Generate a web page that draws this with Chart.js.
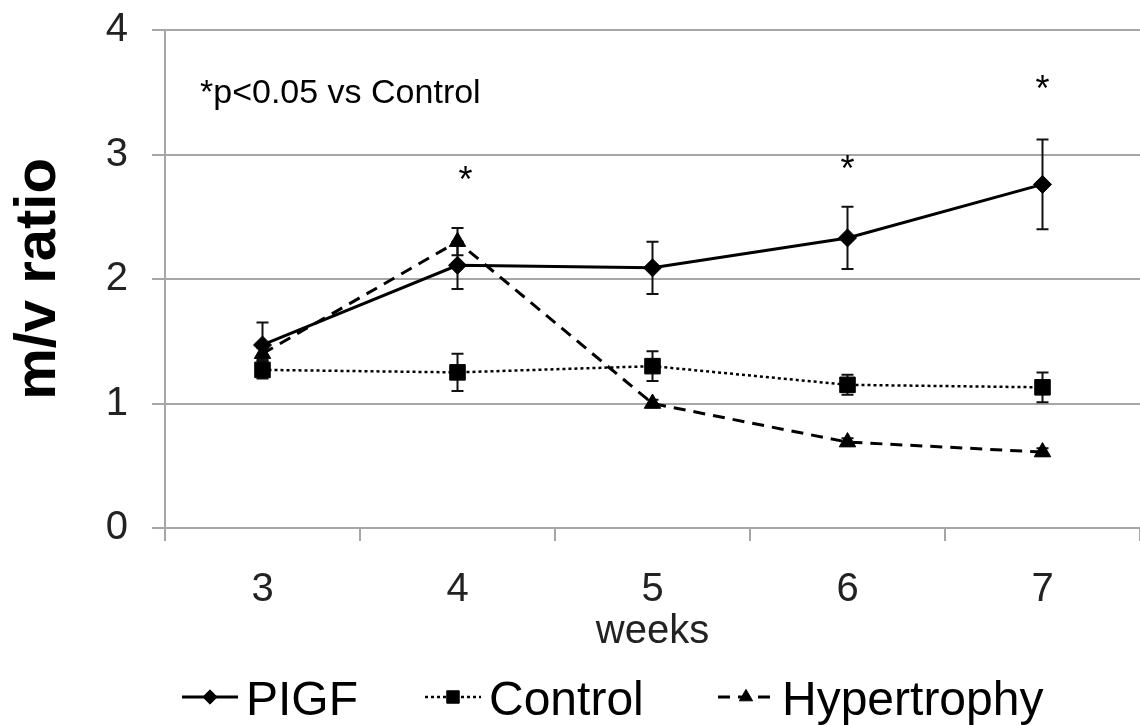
<!DOCTYPE html>
<html>
<head>
<meta charset="utf-8">
<script src="https://cdn.jsdelivr.net/npm/chart.js@4/dist/chart.umd.min.js"></script>
<style>
  html, body { margin: 0; padding: 0; background: #fff; }
  #wrap { width: 1140px; height: 725px; position: relative; }
</style>
</head>
<body>
<div id="wrap"><canvas id="mvChart"></canvas></div>
<script>
/* m/v ratio over weeks, mean +/- SE per group */
const WEEKS = ['3', '4', '5', '6', '7'];

const PLGF_MEAN = [1.47, 2.11, 2.09, 2.33, 2.76];
const PLGF_ERR = [0.18, 0.19, 0.21, 0.25, 0.36];

const CONTROL_MEAN = [1.27, 1.25, 1.30, 1.15, 1.13];
const CONTROL_ERR = [0.07, 0.15, 0.12, 0.08, 0.12];

const HYPER_MEAN = [1.40, 2.30, 1.00, 0.69, 0.61];
const HYPER_ERR = [0.05, 0.11, 0.03, 0.03, 0.03];

// weeks marked significant, with the height of the star
const SIG_WEEKS = ['4', '6', '7'];
const SIG_Y = [2.85, 2.94, 3.58];

const Y_TICKS = [0, 1, 2, 3, 4];

const FONT = '"Liberation Sans", Arial, Helvetica, sans-serif';
const GRID = '#a6a6a6';
const INK = '#000';

Chart.defaults.font.family = FONT;
Chart.defaults.color = '#222';

function series(label, data, err, style, radius, dash, width) {
  return {
    label, data, err,
    borderColor: INK,
    backgroundColor: INK,
    borderWidth: width,
    borderDash: dash,
    pointStyle: style,
    pointRadius: radius,
    pointHoverRadius: radius,
    pointBorderWidth: 1,
    pointBackgroundColor: INK,
    pointBorderColor: INK,
    tension: 0,
    clip: false,
  };
}

// vertical error bars with short caps
const errorBars = {
  id: 'errorBars',
  beforeDatasetsDraw(chart) {
    const { ctx, scales: { x, y } } = chart;
    ctx.save();
    ctx.strokeStyle = '#111';
    ctx.lineWidth = 2;
    chart.data.datasets.forEach((ds) => {
      ds.data.forEach((v, i) => {
        const px = x.getPixelForValue(i);
        const top = y.getPixelForValue(v + ds.err[i]);
        const bot = y.getPixelForValue(v - ds.err[i]);
        ctx.beginPath();
        ctx.moveTo(px, top); ctx.lineTo(px, bot);
        ctx.moveTo(px - 6, top); ctx.lineTo(px + 6, top);
        ctx.moveTo(px - 6, bot); ctx.lineTo(px + 6, bot);
        ctx.stroke();
      });
    });
    ctx.restore();
  },
};

// significance stars and the footnote in the corner
const notes = {
  id: 'notes',
  afterDraw(chart) {
    const { ctx, chartArea, scales: { x, y } } = chart;
    ctx.save();
    ctx.fillStyle = INK;
    ctx.textAlign = 'center';
    ctx.textBaseline = 'alphabetic';
    ctx.font = '36px ' + FONT;
    SIG_WEEKS.forEach((w, i) => {
      const px = x.getPixelForValue(WEEKS.indexOf(w));
      const py = y.getPixelForValue(SIG_Y[i]) + 19;
      ctx.fillText('*', px + (w === '4' ? 8 : 0), py);
    });
    ctx.textAlign = 'left';
    ctx.font = '34px ' + FONT;
    ctx.fillText('*p<0.05 vs Control', chartArea.left + 35, chartArea.top + 73);
    ctx.restore();
  },
};

// legend row under the axis: line sample, marker, label
const LEGEND_X = [182, 425, 718];
const legendRow = {
  id: 'legendRow',
  afterDraw(chart) {
    const { ctx } = chart;
    const cy = 697;
    ctx.save();
    chart.data.datasets.forEach((ds, i) => {
      const x0 = LEGEND_X[i];
      const x1 = x0 + 56;
      ctx.strokeStyle = INK;
      ctx.lineWidth = ds.borderWidth;
      ctx.setLineDash(ds.borderDash || []);
      ctx.lineDashOffset = 0;
      ctx.beginPath();
      ctx.moveTo(x0, cy); ctx.lineTo(x1, cy);
      ctx.stroke();
      ctx.setLineDash([]);
      ctx.fillStyle = INK;
      ctx.lineWidth = 1;
      Chart.helpers.drawPoint(ctx, {
        pointStyle: ds.pointStyle,
        radius: ds.pointRadius * 0.8,
        rotation: 0,
        borderWidth: 1,
      }, (x0 + x1) / 2, cy);
      ctx.font = '48px ' + FONT;
      ctx.textAlign = 'left';
      ctx.textBaseline = 'alphabetic';
      ctx.fillText(ds.label, x1 + 8, cy + 18);
    });
    ctx.restore();
  },
};

new Chart(document.getElementById('mvChart'), {
  type: 'line',
  data: {
    labels: WEEKS,
    datasets: [
      series('PIGF', PLGF_MEAN, PLGF_ERR, 'rectRot', 9, [], 3),
      series('Control', CONTROL_MEAN, CONTROL_ERR, 'rect', 11, [3, 3], 2.5),
      series('Hypertrophy', HYPER_MEAN, HYPER_ERR, 'triangle', 9.5, [12, 8], 3),
    ],
  },
  options: {
    responsive: true,
    maintainAspectRatio: false,
    animation: false,
    layout: { autoPadding: false, padding: { left: 0, top: 30, right: 0, bottom: 65 } },
    plugins: {
      legend: { display: false },
      tooltip: { enabled: false },
    },
    scales: {
      x: {
        type: 'category',
        offset: true,
        afterFit: (s) => {
          s.height = 132;
          s.paddingLeft = 0;
          s.paddingRight = 0;
        },
        grid: {
          offset: true,
          drawOnChartArea: false,
          drawTicks: true,
          tickLength: 13,
          color: GRID,
          lineWidth: 2,
        },
        border: { display: true, color: GRID, width: 2 },
        ticks: { font: { size: 40 }, color: '#222', padding: 25, maxRotation: 0 },
        title: {
          display: true,
          text: 'weeks',
          font: { size: 40 },
          color: '#222',
          padding: { top: 0, bottom: 4 },
        },
      },
      y: {
        min: 0,
        max: 4,
        afterFit: (s) => {
          s.width = 165;
          s.paddingTop = 0;
          s.paddingBottom = 0;
        },
        afterBuildTicks: (s) => { s.ticks = Y_TICKS.map((v) => ({ value: v })); },
        grid: { color: GRID, lineWidth: 2, tickLength: 13 },
        border: { display: true, color: GRID, width: 2 },
        ticks: { font: { size: 40 }, color: '#222', padding: 24 },
        title: {
          display: true,
          text: 'm/v ratio',
          font: { size: 58, weight: 'bold' },
          color: INK,
          padding: { top: 4, bottom: 0 },
        },
      },
    },
  },
  plugins: [errorBars, notes, legendRow],
});
</script>
</body>
</html>
